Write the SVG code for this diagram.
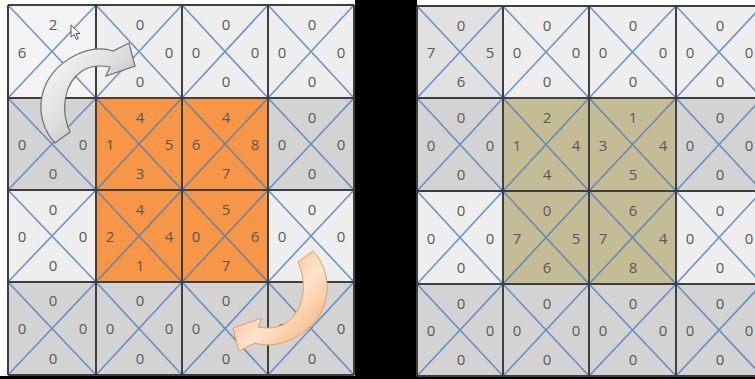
<svg xmlns="http://www.w3.org/2000/svg" width="755" height="379" viewBox="0 0 755 379">
<style>
.lt{fill:#eeeeee}.lt2{fill:#f3f3f3}.gr{fill:#e1e1e1}.dk{fill:#d3d3d3}.or{fill:#f79646}.kh{fill:#c4bc95}
.d{stroke:#4a7ebb;stroke-opacity:.8;stroke-width:1.6;fill:none}
.g{stroke:#3f3f3f;stroke-width:2;fill:none}
text{font-family:"Open Sans","Liberation Sans",sans-serif;font-size:15px;fill:#595959;text-anchor:middle;dominant-baseline:central}
</style>
<defs>
<linearGradient id="ga" x1="0" y1="0" x2="1" y2="1"><stop offset="0" stop-color="#ffffff"/><stop offset=".5" stop-color="#dcdcdc"/><stop offset="1" stop-color="#9a9a9a"/></linearGradient>
<linearGradient id="oa" x1="0" y1="0" x2="1" y2="1"><stop offset="0" stop-color="#f4a365"/><stop offset=".45" stop-color="#fde4cc"/><stop offset="1" stop-color="#f3a061"/></linearGradient>
<path id="arr" d="M55 143 C33 120 34 74 78 54 C92 48 104 48 113 51 L129 43 L135 66 L106 76 L110 67 C100 65 90 66 82 71 C64 83 60 110 70 132 Z"/>
</defs>
<rect width="755" height="379" fill="#ffffff"/>
<rect x="355" y="0" width="62" height="379" fill="#000"/>
<rect x="0" y="376" width="755" height="3" fill="#000"/>

<g id="L00"><rect class="lt2" x="8" y="5" width="88" height="93"/><path class="d" d="M8 5L96 98M96 5L8 98"/><text x="53" y="24">2</text><text x="22" y="51.5">6</text></g>
<g id="L01"><rect class="lt" x="96" y="5" width="86" height="93"/><path class="d" d="M96 5L182 98M182 5L96 98"/><text x="140" y="24">0</text><text x="169" y="51.5">0</text><text x="140" y="81">0</text></g>
<g id="L02"><rect class="lt" x="182" y="5" width="86" height="93"/><path class="d" d="M182 5L268 98M268 5L182 98"/><text x="226" y="24">0</text><text x="196" y="51.5">0</text><text x="255" y="51.5">0</text><text x="226" y="81">0</text></g>
<g id="L03"><rect class="lt" x="268" y="5" width="86" height="93"/><path class="d" d="M268 5L354 98M354 5L268 98"/><text x="312" y="24">0</text><text x="282" y="51.5">0</text><text x="341" y="51.5">0</text><text x="312" y="81">0</text></g>

<g id="L10"><rect class="dk" x="8" y="98" width="88" height="92"/><path class="d" d="M8 98L96 190M96 98L8 190"/><text x="22" y="144">0</text><text x="83" y="144">0</text><text x="53" y="173">0</text></g>
<g id="L11"><rect class="or" x="96" y="98" width="86" height="92"/><path class="d" d="M96 98L182 190M182 98L96 190"/><text x="140" y="117">4</text><text x="110" y="144">1</text><text x="169" y="144">5</text><text x="140" y="173">3</text></g>
<g id="L12"><rect class="or" x="182" y="98" width="86" height="92"/><path class="d" d="M182 98L268 190M268 98L182 190"/><text x="226" y="117">4</text><text x="196" y="144">6</text><text x="255" y="144">8</text><text x="226" y="173">7</text></g>
<g id="L13"><rect class="dk" x="268" y="98" width="86" height="92"/><path class="d" d="M268 98L354 190M354 98L268 190"/><text x="312" y="117">0</text><text x="282" y="144">0</text><text x="341" y="144">0</text><text x="312" y="173">0</text></g>

<g id="L20"><rect class="lt" x="8" y="190" width="88" height="92"/><path class="d" d="M8 190L96 282M96 190L8 282"/><text x="53" y="209">0</text><text x="22" y="236">0</text><text x="83" y="236">0</text><text x="53" y="265">0</text></g>
<g id="L21"><rect class="or" x="96" y="190" width="86" height="92"/><path class="d" d="M96 190L182 282M182 190L96 282"/><text x="140" y="209">4</text><text x="110" y="236">2</text><text x="169" y="236">4</text><text x="140" y="265">1</text></g>
<g id="L22"><rect class="or" x="182" y="190" width="86" height="92"/><path class="d" d="M182 190L268 282M268 190L182 282"/><text x="226" y="209">5</text><text x="196" y="236">0</text><text x="255" y="236">6</text><text x="226" y="265">7</text></g>
<g id="L23"><rect class="lt" x="268" y="190" width="86" height="92"/><path class="d" d="M268 190L354 282M354 190L268 282"/><text x="312" y="209">0</text><text x="282" y="236">0</text><text x="341" y="236">0</text></g>

<g id="L30"><rect class="dk" x="8" y="282" width="88" height="93"/><path class="d" d="M8 282L96 375M96 282L8 375"/><text x="53" y="300">0</text><text x="22" y="328">0</text><text x="83" y="328">0</text><text x="53" y="358">0</text></g>
<g id="L31"><rect class="dk" x="96" y="282" width="86" height="93"/><path class="d" d="M96 282L182 375M182 282L96 375"/><text x="140" y="300">0</text><text x="110" y="328">0</text><text x="169" y="328">0</text><text x="140" y="358">0</text></g>
<g id="L32"><rect class="dk" x="182" y="282" width="86" height="93"/><path class="d" d="M182 282L268 375M268 282L182 375"/><text x="226" y="300">0</text><text x="196" y="328">0</text><text x="255" y="328">0</text><text x="226" y="358">0</text></g>
<g id="L33"><rect class="dk" x="268" y="282" width="86" height="93"/><path class="d" d="M268 282L354 375M354 282L268 375"/><text x="282" y="328">0</text><text x="341" y="328">0</text><text x="312" y="358">0</text></g>

<g id="R00"><rect class="gr" x="417" y="6" width="86" height="92"/><path class="d" d="M417 6L503 98M503 6L417 98"/><text x="461" y="25">0</text><text x="431" y="52">7</text><text x="490" y="52">5</text><text x="461" y="81">6</text></g>
<g id="R01"><rect class="lt" x="503" y="6" width="86" height="92"/><path class="d" d="M503 6L589 98M589 6L503 98"/><text x="547" y="25">0</text><text x="517" y="52">0</text><text x="576" y="52">0</text><text x="547" y="81">0</text></g>
<g id="R02"><rect class="lt" x="589" y="6" width="87" height="92"/><path class="d" d="M589 6L676 98M676 6L589 98"/><text x="633" y="25">0</text><text x="603" y="52">0</text><text x="663" y="52">0</text><text x="633" y="81">0</text></g>
<g id="R03"><rect class="lt" x="676" y="6" width="86" height="92"/><path class="d" d="M676 6L762 98M762 6L676 98"/><text x="720" y="25">0</text><text x="690" y="52">0</text><text x="749" y="52">0</text><text x="720" y="81">0</text></g>

<g id="R10"><rect class="dk" x="417" y="98" width="86" height="93"/><path class="d" d="M417 98L503 191M503 98L417 191"/><text x="461" y="117">0</text><text x="431" y="144.5">0</text><text x="490" y="144.5">0</text><text x="461" y="174">0</text></g>
<g id="R11"><rect class="kh" x="503" y="98" width="86" height="93"/><path class="d" d="M503 98L589 191M589 98L503 191"/><text x="547" y="117">2</text><text x="517" y="144.5">1</text><text x="576" y="144.5">4</text><text x="547" y="174">4</text></g>
<g id="R12"><rect class="kh" x="589" y="98" width="87" height="93"/><path class="d" d="M589 98L676 191M676 98L589 191"/><text x="633" y="117">1</text><text x="603" y="144.5">3</text><text x="663" y="144.5">4</text><text x="633" y="174">5</text></g>
<g id="R13"><rect class="dk" x="676" y="98" width="86" height="93"/><path class="d" d="M676 98L762 191M762 98L676 191"/><text x="720" y="117">0</text><text x="690" y="144.5">0</text><text x="749" y="144.5">0</text><text x="720" y="174">0</text></g>

<g id="R20"><rect class="lt" x="417" y="191" width="86" height="93"/><path class="d" d="M417 191L503 284M503 191L417 284"/><text x="461" y="210">0</text><text x="431" y="237.5">0</text><text x="490" y="237.5">0</text><text x="461" y="267">0</text></g>
<g id="R21"><rect class="kh" x="503" y="191" width="86" height="93"/><path class="d" d="M503 191L589 284M589 191L503 284"/><text x="547" y="210">0</text><text x="517" y="237.5">7</text><text x="576" y="237.5">5</text><text x="547" y="267">6</text></g>
<g id="R22"><rect class="kh" x="589" y="191" width="87" height="93"/><path class="d" d="M589 191L676 284M676 191L589 284"/><text x="633" y="210">6</text><text x="603" y="237.5">7</text><text x="663" y="237.5">4</text><text x="633" y="267">8</text></g>
<g id="R23"><rect class="lt" x="676" y="191" width="86" height="93"/><path class="d" d="M676 191L762 284M762 191L676 284"/><text x="720" y="210">0</text><text x="690" y="237.5">0</text><text x="749" y="237.5">0</text><text x="720" y="267">0</text></g>

<g id="R30"><rect class="dk" x="417" y="284" width="86" height="92"/><path class="d" d="M417 284L503 376M503 284L417 376"/><text x="461" y="303">0</text><text x="431" y="330">0</text><text x="490" y="330">0</text><text x="461" y="359">0</text></g>
<g id="R31"><rect class="dk" x="503" y="284" width="86" height="92"/><path class="d" d="M503 284L589 376M589 284L503 376"/><text x="547" y="303">0</text><text x="517" y="330">0</text><text x="576" y="330">0</text><text x="547" y="359">0</text></g>
<g id="R32"><rect class="dk" x="589" y="284" width="87" height="92"/><path class="d" d="M589 284L676 376M676 284L589 376"/><text x="633" y="303">0</text><text x="603" y="330">0</text><text x="663" y="330">0</text><text x="633" y="359">0</text></g>
<g id="R33"><rect class="dk" x="676" y="284" width="86" height="92"/><path class="d" d="M676 284L762 376M762 284L676 376"/><text x="720" y="303">0</text><text x="690" y="330">0</text><text x="749" y="330">0</text><text x="720" y="359">0</text></g>

<g id="gridlines">
<path class="g" d="M8 5V375M96 5V375M182 5V375M268 5V375M354 5V375M8 5H354M8 98H354M8 190H354M8 282H354M8 375H354"/>
<path class="g" d="M417 6V376M503 6V376M589 6V376M676 6V376M417 6H762M417 98H762M417 191H762M417 284H762M417 376H762"/>
</g>

<g id="connectors">
<use href="#arr" fill="url(#ga)" stroke="#6f6f6f" stroke-width="1.2"/>
<use href="#arr" fill="url(#oa)" stroke="#ee9a5a" stroke-width="1" transform="rotate(180 184 197)"/>
</g>

<g id="cursor"><path d="M71 25L71 37L74 34.5L76.3 39.5L78.3 38.5L76 33.5L80 33.5Z" fill="#ffffff" stroke="#333" stroke-width="0.8"/></g>
</svg>
